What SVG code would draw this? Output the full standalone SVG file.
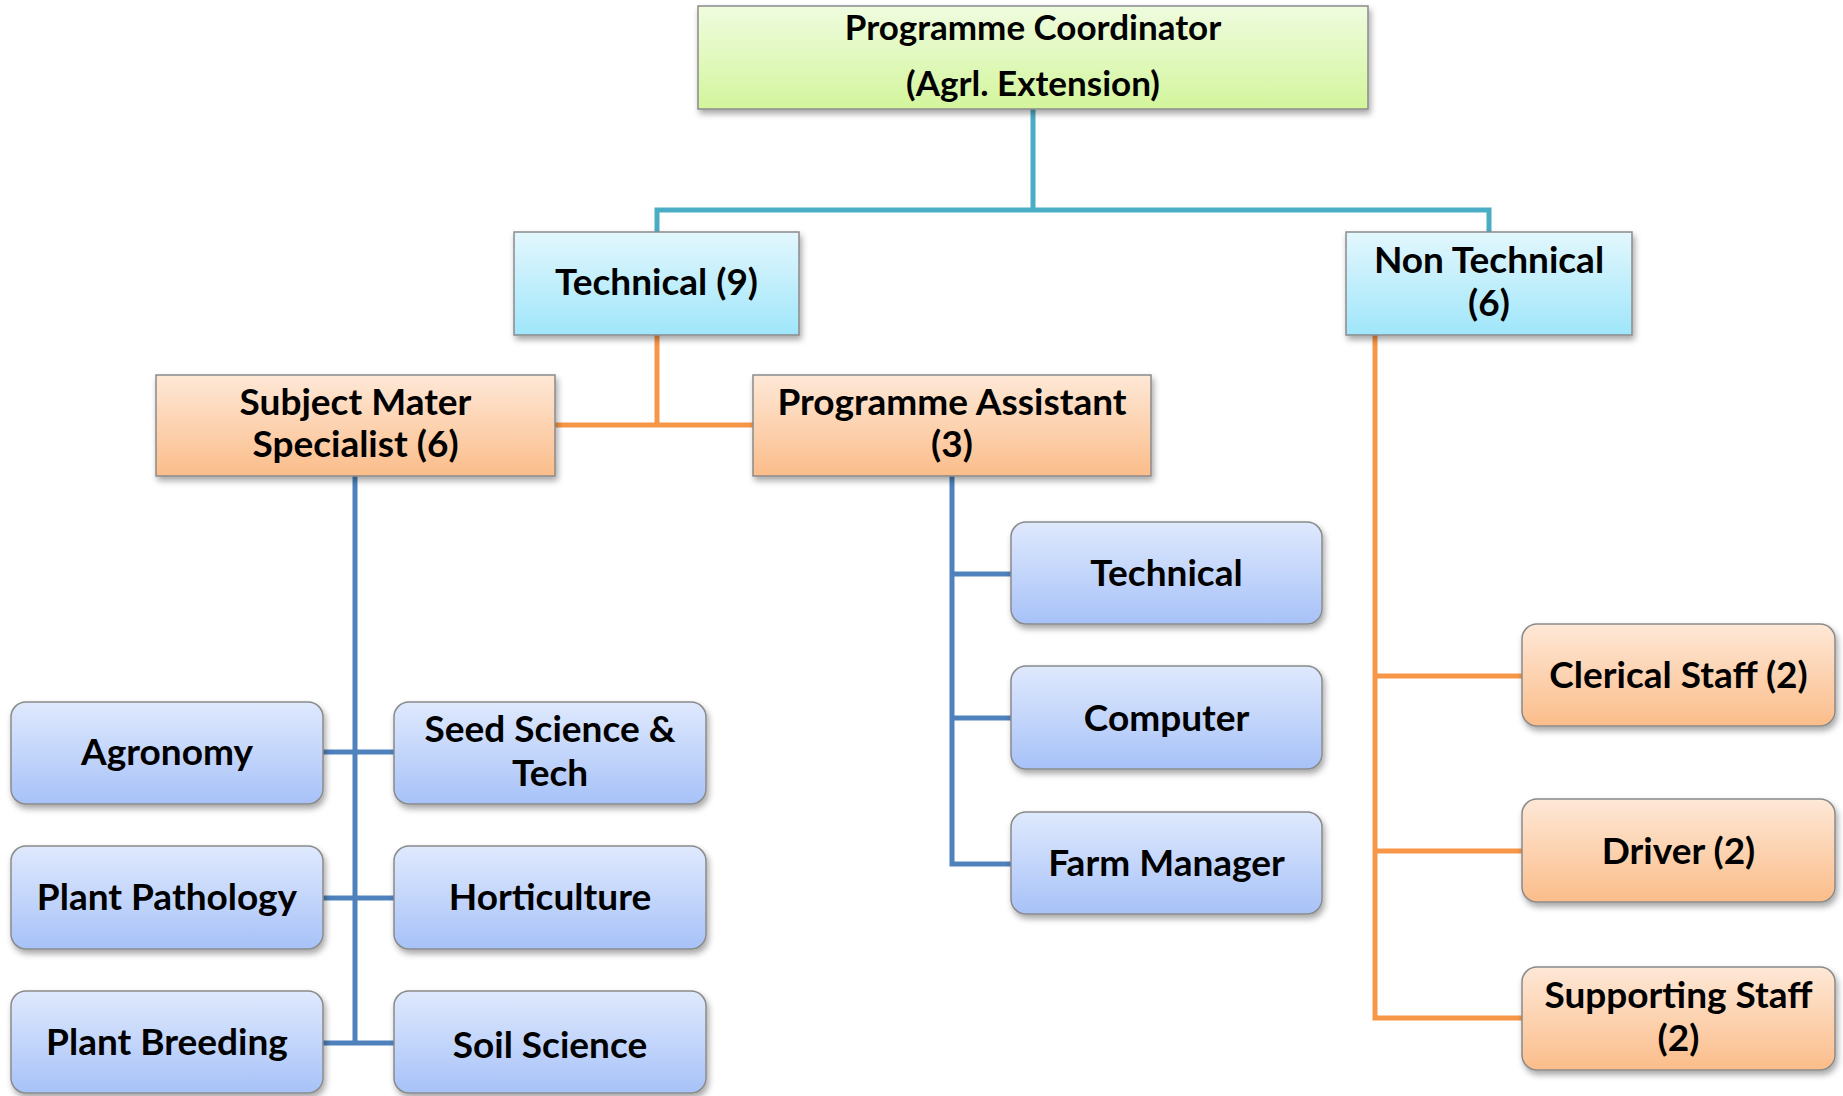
<svg xmlns="http://www.w3.org/2000/svg" width="1843" height="1096" viewBox="0 0 1843 1096">
<defs>
<linearGradient id="gGreen" x1="0" y1="0" x2="0" y2="1"><stop offset="0" stop-color="#effcdf"/><stop offset="1" stop-color="#d3f59c"/></linearGradient>
<linearGradient id="gCyan" x1="0" y1="0" x2="0" y2="1"><stop offset="0" stop-color="#e3f7fd"/><stop offset="1" stop-color="#9fe6fa"/></linearGradient>
<linearGradient id="gOrange" x1="0" y1="0" x2="0" y2="1"><stop offset="0" stop-color="#fee8d7"/><stop offset="1" stop-color="#fbbd8a"/></linearGradient>
<linearGradient id="gBlue" x1="0" y1="0" x2="0" y2="1"><stop offset="0" stop-color="#dfe9fd"/><stop offset="1" stop-color="#a7c2f8"/></linearGradient>
<filter id="sh" x="-10%" y="-20%" width="125%" height="150%"><feDropShadow dx="2" dy="4" stdDeviation="3" flood-color="#000" flood-opacity="0.35"/></filter>
</defs>
<style>
.box{stroke:#8a8a8a;stroke-width:1.5;filter:url(#sh)}
.green{fill:url(#gGreen)}
.cyan{fill:url(#gCyan)}
.orange{fill:url(#gOrange)}
.blue{fill:url(#gBlue)}
text{font-family:Lato,"Open Sans","Liberation Sans",sans-serif;font-weight:700;font-size:37px;fill:#000;text-anchor:middle}
#n-coordinator text{font-size:35px}
.c{fill:none;stroke-width:5}
.teal{stroke:#4bacc6}
.or{stroke:#f79646}
.bl{stroke:#4f81bd}
</style>
<rect width="1843" height="1096" fill="#fff"/>
<g id="connectors">
<path class="c teal" d="M1033,109 V210 M657,232 V210 H1489 V232"/>
<path class="c or" d="M657,335 V425 M555,425 H753"/>
<path class="c bl" d="M355,476 V1043 M323,752 H394 M323,898 H394 M323,1043 H394"/>
<path class="c bl" d="M952,476 V864 H1011 M952,574 H1011 M952,718 H1011"/>
<path class="c or" d="M1375,335 V1018 H1522 M1375,676 H1522 M1375,851 H1522"/>
</g>
<g id="n-coordinator"><rect class="box green" x="698" y="6" width="670" height="103"/><text x="1033" y="40">Programme Coordinator</text><text x="1033" y="96">(Agrl. Extension)</text></g>
<g id="n-technical"><rect class="box cyan" x="514" y="232" width="285" height="103"/><text x="656.5" y="295">Technical (9)</text></g>
<g id="n-nontechnical"><rect class="box cyan" x="1346" y="232" width="286" height="103"/><text x="1489" y="273">Non Technical</text><text x="1489" y="316">(6)</text></g>
<g id="n-sms"><rect class="box orange" x="156" y="375" width="399" height="101"/><text x="355.5" y="415">Subject Mater</text><text x="355.5" y="457">Specialist (6)</text></g>
<g id="n-pa"><rect class="box orange" x="753" y="375" width="398" height="101"/><text x="952" y="415">Programme Assistant</text><text x="952" y="457">(3)</text></g>
<g id="n-agronomy"><rect class="box blue" x="11" y="702" width="312" height="102" rx="15"/><text x="167" y="765">Agronomy</text></g>
<g id="n-seed"><rect class="box blue" x="394" y="702" width="312" height="102" rx="15"/><text x="550" y="742">Seed Science &amp;</text><text x="550" y="786">Tech</text></g>
<g id="n-pathology"><rect class="box blue" x="11" y="846" width="312" height="103" rx="15"/><text x="167" y="910">Plant Pathology</text></g>
<g id="n-horticulture"><rect class="box blue" x="394" y="846" width="312" height="103" rx="15"/><text x="550" y="910">Horticulture</text></g>
<g id="n-breeding"><rect class="box blue" x="11" y="991" width="312" height="102" rx="15"/><text x="167" y="1055">Plant Breeding</text></g>
<g id="n-soil"><rect class="box blue" x="394" y="991" width="312" height="102" rx="15"/><text x="550" y="1058">Soil Science</text></g>
<g id="n-pa-technical"><rect class="box blue" x="1011" y="522" width="311" height="102" rx="15"/><text x="1166.5" y="586">Technical</text></g>
<g id="n-computer"><rect class="box blue" x="1011" y="666" width="311" height="103" rx="15"/><text x="1166.5" y="731">Computer</text></g>
<g id="n-farm"><rect class="box blue" x="1011" y="812" width="311" height="102" rx="15"/><text x="1166.5" y="876">Farm Manager</text></g>
<g id="n-clerical"><rect class="box orange" x="1522" y="624" width="313" height="102" rx="15"/><text x="1678.5" y="688">Clerical Staff (2)</text></g>
<g id="n-driver"><rect class="box orange" x="1522" y="799" width="313" height="103" rx="15"/><text x="1678.5" y="864">Driver (2)</text></g>
<g id="n-supporting"><rect class="box orange" x="1522" y="967" width="313" height="103" rx="15"/><text x="1678.5" y="1008">Supporting Staff</text><text x="1678.5" y="1051">(2)</text></g>
</svg>
